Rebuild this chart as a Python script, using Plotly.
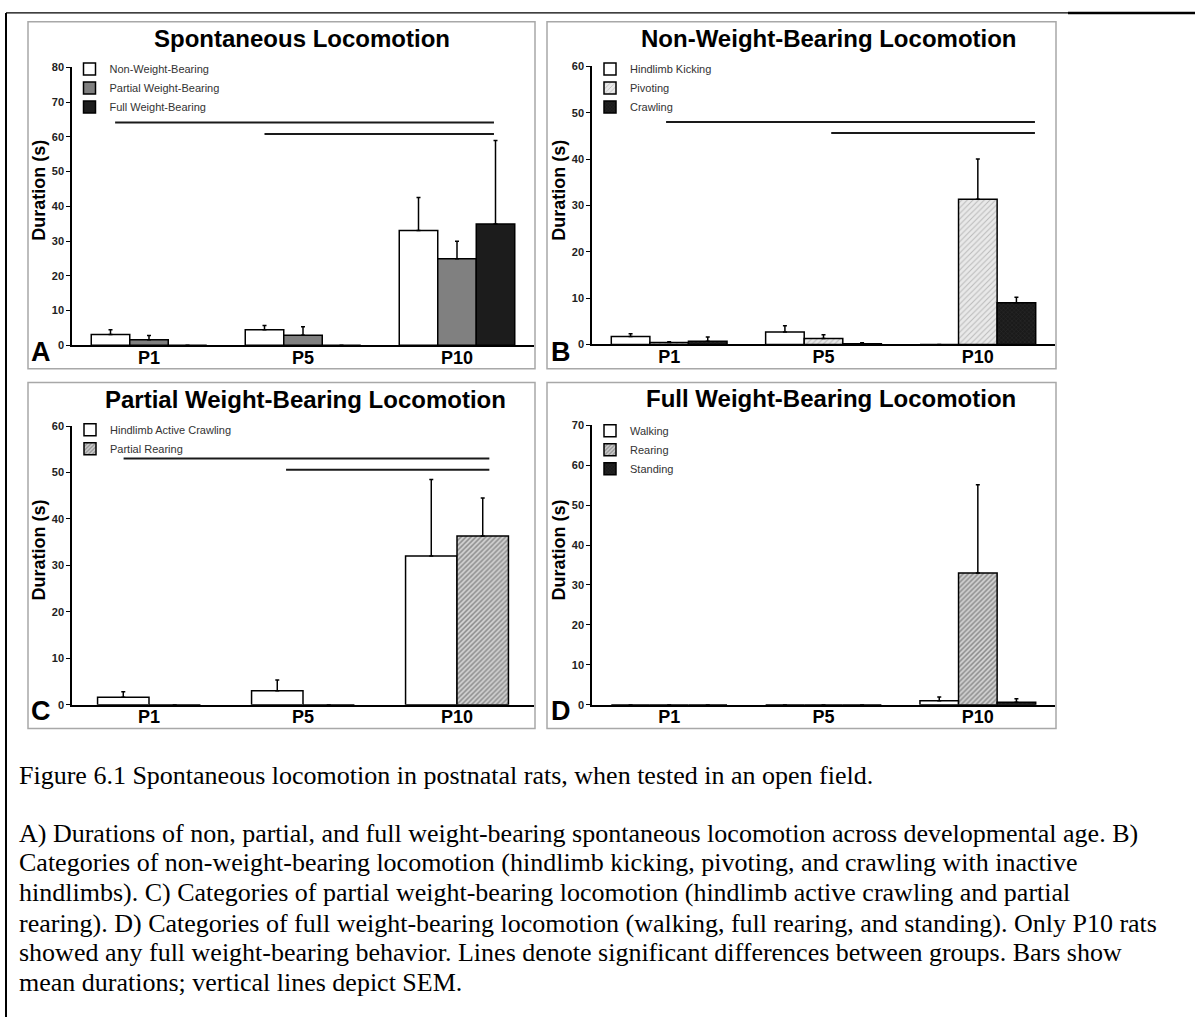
import plotly.graph_objects as go

W, H = 1195, 1023

# ---------------- data ----------------
ages = ["P1", "P5", "P10"]

# A) Spontaneous locomotion
spont_names = ["Non-Weight-Bearing", "Partial Weight-Bearing", "Full Weight-Bearing"]
spont_nonwb = [3.1, 4.5, 33.0]
spont_nonwb_sem = [1.4, 1.2, 9.5]
spont_partial = [1.6, 2.9, 24.9]
spont_partial_sem = [1.2, 2.4, 5.0]
spont_full = [0.0, 0.0, 34.9]
spont_full_sem = [0.0, 0.0, 24.0]

# B) Non-weight-bearing locomotion
nwb_names = ["Hindlimb Kicking", "Pivoting", "Crawling"]
nwb_kicking = [1.7, 2.7, 0.0]
nwb_kicking_sem = [0.6, 1.35, 0.0]
nwb_pivoting = [0.4, 1.3, 31.3]
nwb_pivoting_sem = [0.2, 0.8, 8.7]
nwb_crawling = [0.7, 0.15, 9.0]
nwb_crawling_sem = [0.9, 0.2, 1.2]

# C) Partial weight-bearing locomotion
pwb_names = ["Hindlimb Active Crawling", "Partial Rearing"]
pwb_active_crawl = [1.6, 3.0, 32.0]
pwb_active_crawl_sem = [1.2, 2.3, 16.5]
pwb_partial_rear = [0.0, 0.0, 36.3]
pwb_partial_rear_sem = [0.0, 0.0, 8.2]

# D) Full weight-bearing locomotion
fwb_names = ["Walking", "Rearing", "Standing"]
fwb_walking = [0.0, 0.0, 1.0]
fwb_walking_sem = [0.0, 0.0, 0.9]
fwb_rearing = [0.0, 0.0, 33.0]
fwb_rearing_sem = [0.0, 0.0, 22.1]
fwb_standing = [0.0, 0.0, 0.6]
fwb_standing_sem = [0.0, 0.0, 0.9]

# significance brackets: (level, start, end) in category-index units
sig_spont = [(64.1, -0.22, 2.24), (60.8, 0.75, 2.24)]
sig_nwb = [(48.0, -0.02, 2.37), (45.6, 1.05, 2.37)]
sig_pwb = [(53.0, -0.165, 2.21), (50.6, 0.89, 2.21)]

panel_titles = ["Spontaneous Locomotion", "Non-Weight-Bearing Locomotion",
                "Partial Weight-Bearing Locomotion", "Full Weight-Bearing Locomotion"]
panel_letters = ["A", "B", "C", "D"]
y_ranges = [80, 60, 60, 70]

caption_lines = [
    "Figure 6.1 Spontaneous locomotion in postnatal rats, when tested in an open field.",
    "A) Durations of non, partial, and full weight-bearing spontaneous locomotion across developmental age. B)",
    "Categories of non-weight-bearing locomotion (hindlimb kicking, pivoting, and crawling with inactive",
    "hindlimbs). C) Categories of partial weight-bearing locomotion (hindlimb active crawling and partial",
    "rearing). D) Categories of full weight-bearing locomotion (walking, full rearing, and standing). Only P10 rats",
    "showed any full weight-bearing behavior. Lines denote significant differences between groups. Bars show",
    "mean durations; vertical lines depict SEM.",
]

# ---------------- styling helpers ----------------
SANS = "Liberation Sans, Arial, Helvetica, sans-serif"
SERIF = "Liberation Serif, Times New Roman, serif"


def px(x):
    return x / W


def py(y):
    return 1 - y / H


WHITE = dict(color="white")
GRAY = dict(color="#808080")
BLACK = dict(color="#1c1c1c")
LIGHT_HATCH = dict(color="#e4e4e4",
                   pattern=dict(shape="/", fgcolor="#8a8a8a", bgcolor="#e9e9e9", size=4, solidity=0.25))
DARK_HATCH = dict(color="#b0b0b0",
                  pattern=dict(shape="/", fgcolor="#4a4a4a", bgcolor="#d2d2d2", size=3.5, solidity=0.45))
DARK_TEX = dict(color="#1e1e1e",
                pattern=dict(shape="x", fgcolor="#3c3c3c", bgcolor="#1a1a1a", size=3, solidity=0.3))

fig = go.Figure()


def add_bars(ax, legend, name, vals, sems, style, offset, width):
    marker = dict(style)
    marker["line"] = dict(color="black", width=1.5)
    fig.add_trace(go.Bar(
        x=ages, y=vals, name=name, marker=marker,
        offset=offset, width=width,
        xaxis="x" + ax, yaxis="y" + ax, legend=legend,
        error_y=dict(type="data", array=sems, arrayminus=[0] * len(sems), symmetric=False,
                     color="black", thickness=1.5, width=2),
    ))


w3 = 0.25
offs3 = [-0.375, -0.125, 0.125]
w2 = 0.334
offs2 = [-0.334, 0.0]

# A
add_bars("", "legend", spont_names[0], spont_nonwb, spont_nonwb_sem, WHITE, offs3[0], w3)
add_bars("", "legend", spont_names[1], spont_partial, spont_partial_sem, GRAY, offs3[1], w3)
add_bars("", "legend", spont_names[2], spont_full, spont_full_sem, BLACK, offs3[2], w3)
# B
add_bars("2", "legend2", nwb_names[0], nwb_kicking, nwb_kicking_sem, WHITE, offs3[0], w3)
add_bars("2", "legend2", nwb_names[1], nwb_pivoting, nwb_pivoting_sem, LIGHT_HATCH, offs3[1], w3)
add_bars("2", "legend2", nwb_names[2], nwb_crawling, nwb_crawling_sem, DARK_TEX, offs3[2], w3)
# C
add_bars("3", "legend3", pwb_names[0], pwb_active_crawl, pwb_active_crawl_sem, WHITE, offs2[0], w2)
add_bars("3", "legend3", pwb_names[1], pwb_partial_rear, pwb_partial_rear_sem, DARK_HATCH, offs2[1], w2)
# D
add_bars("4", "legend4", fwb_names[0], fwb_walking, fwb_walking_sem, WHITE, offs3[0], w3)
add_bars("4", "legend4", fwb_names[1], fwb_rearing, fwb_rearing_sem, DARK_HATCH, offs3[1], w3)
add_bars("4", "legend4", fwb_names[2], fwb_standing, fwb_standing_sem, DARK_TEX, offs3[2], w3)

# panel geometry in page pixels: (x_left, x_right, y_zero, y_top)
plots = [
    (72, 534, 343.3, 62.0),
    (592, 1055, 342.5, 61.0),
    (72, 534, 707.0, 425.0),
    (592, 1055, 707.0, 424.3),
]
boxes = [(28, 16, 535, 367), (547, 16, 1056, 367), (28, 381, 535, 731), (547, 381, 1056, 731)]

layout = dict(
    width=W, height=H, margin=dict(l=0, r=0, t=0, b=0),
    paper_bgcolor="white", plot_bgcolor="rgba(0,0,0,0)",
    barmode="overlay", showlegend=True,
    font=dict(family=SANS, color="black"),
)

axis_names = ["", "2", "3", "4"]
for i, (x0, x1, y0, y1) in enumerate(plots):
    a = axis_names[i]
    layout["xaxis" + a] = dict(
        domain=[px(x0), px(x1)], anchor="y" + a, type="category",
        range=[-0.5, 2.5], showline=True, linecolor="black", linewidth=2,
        ticks="", showgrid=False, zeroline=False, fixedrange=True,
        ticklabelstandoff=-5,
        tickfont=dict(family=SANS, size=18, weight="bold", color="black"),
    )
    layout["yaxis" + a] = dict(
        domain=[py(y0), py(y1)], anchor="x" + a, range=[0, y_ranges[i]],
        dtick=10, tick0=0, showline=True, linecolor="black", linewidth=1.5,
        ticks="outside", ticklen=4, tickwidth=1, tickcolor="black",
        showgrid=False, zeroline=False, fixedrange=True,
        tickfont=dict(family=SANS, size=11, weight="bold", color="#222"),
    )

legend_pos = [(69.5, 49), (590, 49), (70, 414), (590, 415)]
legend_keys = ["legend", "legend2", "legend3", "legend4"]
for key, (lx, ly) in zip(legend_keys, legend_pos):
    layout[key] = dict(
        x=px(lx), y=py(ly), xanchor="left", yanchor="top",
        bgcolor="rgba(0,0,0,0)", borderwidth=0,
        font=dict(family=SANS, size=11, color="#333"),
        itemclick=False, itemdoubleclick=False,
    )

fig.update_layout(**layout)

shapes = []
# page frame lines
shapes.append(dict(type="line", xref="paper", yref="paper", x0=px(6), x1=px(6), y0=py(7), y1=py(1023),
                   line=dict(color="black", width=2)))
shapes.append(dict(type="line", xref="paper", yref="paper", x0=px(6), x1=px(1068), y0=py(7), y1=py(7),
                   line=dict(color="black", width=1.2)))
shapes.append(dict(type="line", xref="paper", yref="paper", x0=px(1068), x1=px(1195), y0=py(7), y1=py(7),
                   line=dict(color="black", width=2.5)))
# panel frames
for (bx0, by0, bx1, by1) in boxes:
    shapes.append(dict(type="rect", xref="paper", yref="paper", x0=px(bx0), x1=px(bx1),
                       y0=py(by0), y1=py(by1), line=dict(color="#a8a8a8", width=1.5),
                       fillcolor="rgba(0,0,0,0)", layer="below"))
# significance lines
for a, sig in zip(["", "2", "3"], [sig_spont, sig_nwb, sig_pwb]):
    for lvl, s, e in sig:
        shapes.append(dict(type="line", xref="x" + a, yref="y" + a, x0=s, x1=e, y0=lvl, y1=lvl,
                           line=dict(color="#1a1a1a", width=2)))
fig.update_layout(shapes=shapes)

annotations = []
title_pos = [(302, 33), (829, 33), (305, 398), (831, 397)]
for t, (tx, ty) in zip(panel_titles, title_pos):
    annotations.append(dict(text="<b>" + t + "</b>", x=px(tx), y=py(ty), xref="paper", yref="paper",
                            xanchor="center", yanchor="middle", showarrow=False,
                            font=dict(family=SANS, size=24, color="black")))
letter_pos = [(41, 350), (561, 350), (41, 713), (561, 713)]
for t, (tx, ty) in zip(panel_letters, letter_pos):
    annotations.append(dict(text="<b>" + t + "</b>", x=px(tx), y=py(ty), xref="paper", yref="paper",
                            xanchor="center", yanchor="middle", showarrow=False,
                            font=dict(family=SANS, size=27, color="black")))
ytitle_pos = [(39, 187), (559, 187), (39, 551), (559, 551)]
for (tx, ty) in ytitle_pos:
    annotations.append(dict(text="<b>Duration (s)</b>", x=px(tx), y=py(ty), xref="paper", yref="paper",
                            xanchor="center", yanchor="middle", showarrow=False, textangle=-90,
                            font=dict(family=SANS, size=18, color="black")))
caption_y = [779, 837, 867, 897, 928, 958, 988]
for line, cy in zip(caption_lines, caption_y):
    annotations.append(dict(text=line, x=px(17), y=py(cy), xref="paper", yref="paper",
                            xanchor="left", yanchor="middle", showarrow=False,
                            font=dict(family=SERIF, size=26, color="black")))
fig.update_layout(annotations=annotations)

fig.write_html("out.html")
